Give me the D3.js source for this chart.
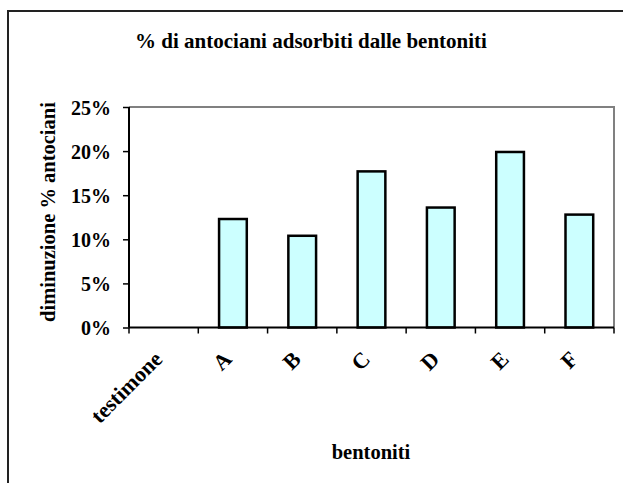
<!DOCTYPE html>
<html><head><meta charset="utf-8">
<script src="https://cdn.jsdelivr.net/npm/d3@7"></script>
<style>body{margin:0;background:#fff} svg{display:block} text{font-family:"Liberation Serif","Times New Roman",serif;font-weight:bold;fill:#000}</style>
</head><body><svg width="623" height="483"></svg>
<script>
const categories = ["testimone","A","B","C","D","E","F"];
const values = [0, 0.123, 0.104, 0.177, 0.136, 0.199, 0.128];
const yTicks = [0, 0.05, 0.10, 0.15, 0.20, 0.25];
const title = "% di antociani adsorbiti dalle bentoniti";
const xTitle = "bentoniti";
const yTitle = "diminuzione % antociani";

const svg = d3.select("svg");
svg.append("rect").attr("width",623).attr("height",483).attr("fill","#fff");
svg.append("rect").attr("x",8).attr("y",11).attr("width",700).attr("height",600)
  .attr("fill","none").attr("stroke","#222").attr("stroke-width",2);

const L=129, R=614, T=107, B=327.5;
const x = d3.scaleBand().domain(categories).range([L,R]).paddingInner(0.6).paddingOuter(0.3);
const xo = d3.scaleBand().domain(categories).range([L,R]).padding(0);
const y = d3.scaleLinear().domain([0,0.25]).range([B,T]);

svg.append("path").attr("d",`M${L},${T}H${R}V${B}`).attr("fill","none")
  .attr("stroke","#808080").attr("stroke-width",2);

const data = categories.map((c,i)=>({c, v:values[i]})).filter(d=>d.v>0);
svg.selectAll(".bar").data(data).join("rect").attr("class","bar")
  .attr("x",d=>x(d.c)).attr("y",d=>y(d.v)).attr("width",x.bandwidth())
  .attr("height",d=>B-y(d.v)).attr("fill","#ccffff").attr("stroke","#000").attr("stroke-width",2.5);

// y axis
const ya = svg.append("g").attr("transform",`translate(${L},0)`)
  .call(d3.axisLeft(y).tickValues(yTicks).tickFormat(d3.format(".0%")).tickSize(6).tickPadding(12));
ya.select(".domain").attr("stroke","#000").attr("stroke-width",2).attr("d",`M0,${T}V${B}`);
ya.selectAll(".tick line").attr("stroke","#000").attr("stroke-width",1.5);
ya.selectAll(".tick text").attr("font-size",20).attr("font-family",null).attr("dy","0.35em");

// x axis
const bounds = categories.map(c=>xo(c)).concat([R]);
svg.append("line").attr("x1",L).attr("x2",R).attr("y1",B).attr("y2",B).attr("stroke","#000").attr("stroke-width",2);
svg.selectAll(".xt").data(bounds).join("line").attr("class","xt")
  .attr("x1",d=>d).attr("x2",d=>d).attr("y1",B).attr("y2",B+6).attr("stroke","#000").attr("stroke-width",1.5);
svg.selectAll(".xl").data(categories).join("text").attr("class","xl")
  .attr("transform",c=>`translate(${x(c)+x.bandwidth()/2},${B+33}) rotate(-45)`)
  .attr("text-anchor","end").attr("font-size",22).text(c=>c);

svg.append("text").attr("x",311).attr("y",48).attr("text-anchor","middle").attr("font-size",21).text(title);
svg.append("text").attr("x",371).attr("y",459).attr("text-anchor","middle").attr("font-size",20.5).text(xTitle);
svg.append("text").attr("transform","translate(55,212) rotate(-90)").attr("text-anchor","middle").attr("font-size",20.5).text(yTitle);
</script></body></html>
